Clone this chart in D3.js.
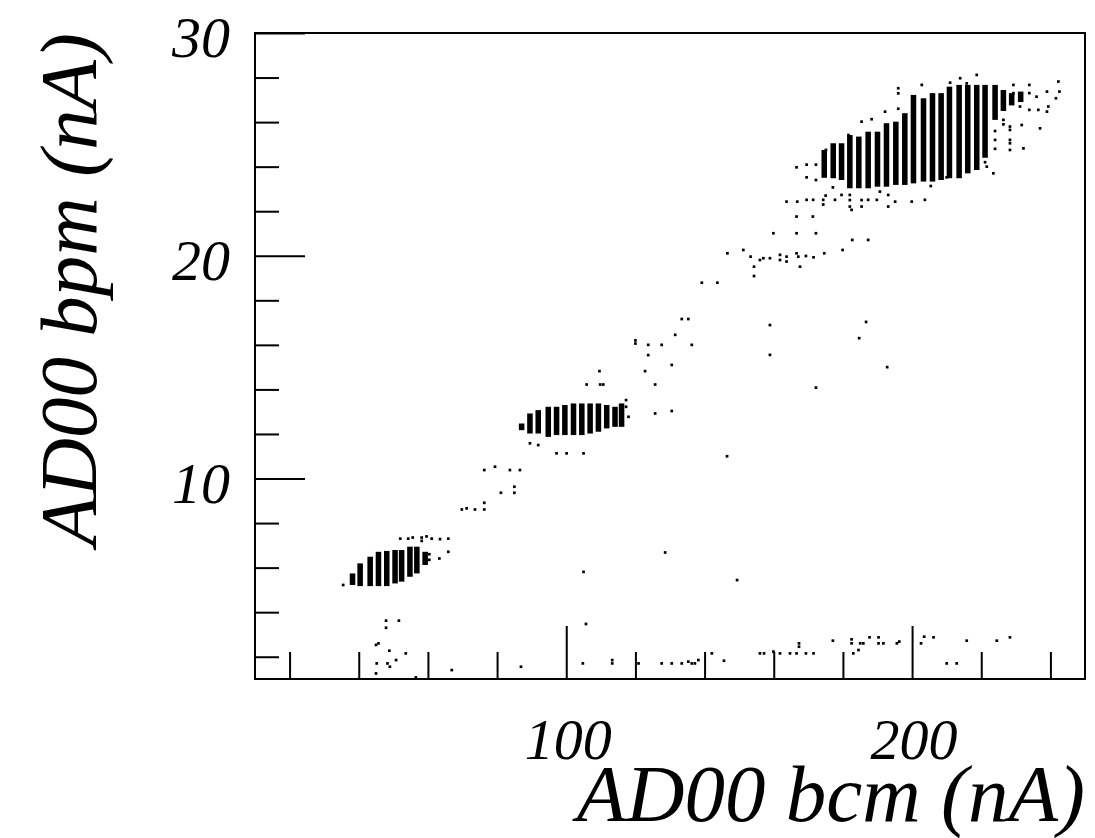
<!DOCTYPE html>
<html><head><meta charset="utf-8">
<script src="https://cdn.jsdelivr.net/npm/d3@7"></script>
<style>
body{margin:0;background:#fff;}
svg{display:block;}
text{font-family:"Liberation Serif","Times New Roman",serif;font-style:italic;fill:#000;}
</style>
</head><body><svg id="c" width="1095" height="838"></svg>
<script>
// ---- tick values & labels ----
const xMinorTicks = [20,40,60,80,120,140,160,180,220,240];
const xMajorTicks = [100,200];
const xTickLabels = ["100","200"];
const yMinorTicks = [2,4,6,8,12,14,16,18,22,24,26,28];
const yMajorTicks = [10,20,30];
const yTickLabels = ["10","20","30"];
const xTitle = "AD00 bcm (nA)";
const yTitle = "AD00 bpm (nA)";

// ---- dense clusters: [bcm, bpm top, bpm bottom] per column ----
const lowCluster = [
  [38.2,5.74,5.22],[40.4,6.19,5.17],[43.3,6.49,5.17],[45.7,6.71,5.17],[48.1,6.75,5.17],
  [50.5,6.79,5.29],[52.4,6.79,5.37],[54.8,6.94,5.59],[56.8,6.94,5.74],[59.2,6.71,6.12]
];
const midCluster = [
  [87.1,12.47,12.17],[89.5,12.92,12.02],[91.9,13.07,12.02],[94.8,13.22,11.87],[97.2,13.22,11.95],
  [99.6,13.30,11.95],[102.1,13.37,11.95],[104.5,13.37,11.95],[106.9,13.37,12.02],[109.3,13.37,12.10],
  [111.7,13.30,12.25],[114.1,13.22,12.32],[116.0,13.37,12.32]
];
const highCluster = [
  [174.6,24.75,23.50],[177.2,25.05,23.48],[179.6,25.05,23.40],[182.0,25.42,23.03],[184.6,25.35,23.03],
  [187.3,25.57,23.03],[190.0,25.57,23.10],[192.6,25.95,23.10],[195.3,26.02,23.18],[197.9,26.40,23.18],
  [200.4,27.22,23.25],[203.3,27.07,23.33],[205.9,27.30,23.33],[208.4,27.30,23.40],[210.8,27.59,23.48],
  [213.6,27.67,23.48],[216.1,27.67,23.70],[218.7,27.67,23.85],[221.1,27.67,24.40],[224.0,27.67,26.10],
  [226.4,27.44,26.50],[228.8,27.30,26.75],[231.4,27.37,26.90]
];

// ---- sparse points: [bcm, bpm] ----
const sparsePoints = [
  [47.9,3.62],[51.6,3.62],[47.9,3.30],[45.0,2.53],[45.7,2.60],[48.85,2.27],[53.6,2.15],[45.2,1.70],
  [48.3,1.70],[49.0,1.55],[50.8,1.85],[45.0,1.25],[56.5,1.07],[66.9,1.40],[86.9,1.55],
  [105.7,3.47],[104.8,1.70],[113.3,1.70],[113.3,1.85],[120.9,1.70],[127.6,1.70],[130.5,1.70],[133.4,1.70],
  [135.3,1.78],[136.3,1.70],[137.2,1.70],[138.2,1.85],[142.1,2.15],[145.6,1.82],[156.0,2.15],[157.2,2.15],
  [159.9,2.23],[161.8,2.15],[164.7,2.15],[166.6,2.15],[167.3,2.60],[167.3,2.45],[169.3,2.15],[171.5,2.15],
  [177.1,2.72],[182.5,2.78],[182.5,2.60],[183.0,2.15],[184.5,2.30],[185.0,2.60],[185.9,2.60],[187.7,2.87],
  [190.3,2.87],[190.3,2.60],[191.7,2.60],[195.6,2.60],[196.3,2.68],[202.6,2.60],[203.5,2.90],[206.2,2.87],
  [210.0,1.70],[212.9,1.70],[215.8,2.72],[224.5,2.72],[228.3,2.87],
  [35.5,5.22],[63.3,6.41],[65.9,6.71],[60.4,6.60],[60.4,6.35],
  [52.0,7.30],[54.3,7.30],[55.6,7.35],[58.2,7.35],[58.2,7.20],[59.6,7.40],[61.1,7.30],[63.5,7.28],[65.9,7.30],
  [69.8,8.61],[71.2,8.66],[73.6,8.61],[76.3,8.91],[76.3,8.61],
  [81.1,9.36],[85.0,9.63],[85.0,9.36],
  [76.3,10.38],[79.4,10.53],[83.7,10.38],[86.6,10.38],
  [89.5,11.58],[91.9,11.50],[97.2,11.13],[100.1,11.13],[105.0,11.13],
  [105.0,5.81],[128.6,6.68],[149.4,5.44],[146.5,11.00],
  [117.3,13.52],[117.3,13.22],[118.0,12.77],[125.7,12.92],[130.5,13.03],
  [105.9,14.22],[109.8,14.22],[110.7,14.22],[125.7,14.22],
  [109.6,14.82],[122.8,14.82],[130.5,15.10],
  [120.0,16.06],[120.0,16.20],[123.7,16.00],[127.6,16.00],[136.3,16.00],[123.7,15.54],[131.5,16.45],
  [133.4,17.16],[135.3,17.16],[139.2,18.79],[143.7,18.79],
  [158.9,16.89],[158.9,15.55],[172.2,14.08],[184.7,16.30],[186.7,17.03],[192.8,15.00],
  [146.6,20.11],[151.2,20.26],[153.3,19.96],[156.0,19.81],[157.0,19.89],[158.9,19.89],[161.8,20.04],
  [161.8,19.81],[163.7,19.96],[163.7,19.74],[166.6,20.11],[167.1,19.96],[169.3,19.99],[171.5,19.93],
  [167.6,19.51],[154.3,19.51],[154.3,19.09],[174.6,20.11],[179.9,20.26],[182.7,20.71],[187.3,20.71],
  [159.9,21.01],[166.6,21.01],[172.2,21.01],[166.6,21.76],[171.3,21.76],
  [163.7,22.43],[166.8,22.43],[169.5,22.51],[171.4,22.51],[174.3,22.51],[174.3,22.30],[175.0,22.70],
  [177.7,22.51],[179.6,22.73],[182.0,22.73],[182.0,22.50],[182.0,22.21],[182.5,22.06],[185.4,22.50],
  [185.4,22.21],[187.3,22.51],[189.8,22.51],[190.7,22.88],[193.1,22.73],[193.1,22.21],[195.1,22.43],
  [199.9,22.43],[203.7,22.51],
  [166.6,23.97],[169.5,24.09],[172.2,24.09],[169.5,23.52],[172.2,23.40],[177.1,23.07],
  [175.1,24.75],[181.6,25.42],[185.4,26.02],[188.3,26.13],[192.2,26.47],[196.0,27.29],[196.0,26.60],
  [205.4,23.13],[210.0,23.52],
  [196.0,27.52],[202.8,27.67],[211.0,27.77],[213.9,27.97],[218.7,28.12],[215.8,27.74],[229.3,27.67],
  [229.3,27.30],[233.9,27.67],[233.9,27.30],[236.0,27.14],[239.0,27.37],[242.3,27.82],[242.6,27.37],
  [241.6,27.07],[239.0,26.47],[239.4,26.70],[236.5,26.55],[237.0,25.72],[232.2,24.82],[228.3,24.75],
  [223.5,23.70],[221.6,24.00],[228.3,25.20],[228.3,25.05],[231.7,25.87],[228.3,25.80],[228.3,25.65],
  [231.2,27.00],[231.2,26.70],[224.0,25.60],[224.0,25.20],[224.0,24.80],[226.4,26.10],[226.4,25.90],
  [233.9,26.55],[221.1,24.20]
];

// ---- drawing ----
const svg = d3.select("#c");
const x = d3.scaleLinear().domain([10,250]).range([255,1085]);
const y = d3.scaleLinear().domain([1,30]).range([679,33]);
const colHalf = 0.8;   // half column width in bcm units
const dot = 2.7;

const clusters = lowCluster.concat(midCluster, highCluster);
svg.append("g").selectAll("rect").data(clusters).join("rect")
  .attr("x", d => x(d[0]-colHalf))
  .attr("width", d => x(d[0]+colHalf) - x(d[0]-colHalf))
  .attr("y", d => y(d[1]))
  .attr("height", d => y(d[2]) - y(d[1]))
  .attr("fill", "#000");

svg.append("g").selectAll("rect").data(sparsePoints).join("rect")
  .attr("x", d => x(d[0]) - dot/2)
  .attr("y", d => y(d[1]) - dot/2)
  .attr("width", dot).attr("height", dot)
  .attr("fill", "#000");

function styleAxis(g){
  g.select(".domain").remove();
  g.selectAll(".tick line").attr("stroke","#000").attr("stroke-width",2);
}
svg.append("g").attr("transform","translate(0,679)")
  .call(d3.axisBottom(x).tickValues(xMinorTicks).tickSize(-27).tickFormat("")).call(styleAxis);
svg.append("g").attr("transform","translate(0,679)")
  .call(d3.axisBottom(x).tickValues(xMajorTicks).tickSize(-53).tickFormat("")).call(styleAxis);
svg.append("g").attr("transform","translate(255,0)")
  .call(d3.axisLeft(y).tickValues(yMinorTicks).tickSize(-24).tickFormat("")).call(styleAxis);
svg.append("g").attr("transform","translate(255,0)")
  .call(d3.axisLeft(y).tickValues(yMajorTicks).tickSize(-50).tickFormat("")).call(styleAxis);

// frame
svg.append("rect").attr("x",x(10)).attr("y",y(30))
  .attr("width",x(250)-x(10)).attr("height",y(1)-y(30))
  .attr("fill","none").attr("stroke","#000").attr("stroke-width",2);

// tick labels
svg.append("g").selectAll("text").data(xMajorTicks).join("text")
  .attr("x", d => x(d) + 2).attr("y", 759)
  .attr("text-anchor","middle").attr("font-size",58)
  .text((d,i) => xTickLabels[i]);
svg.append("g").selectAll("text").data(yMajorTicks).join("text")
  .attr("x", 230).attr("y", d => y(d) + 24)
  .attr("text-anchor","end").attr("font-size",58)
  .text((d,i) => yTickLabels[i]);

// titles
svg.append("text").attr("x",1085).attr("y",821)
  .attr("text-anchor","end").attr("font-size",81).text(xTitle);
svg.append("text").attr("transform","translate(96,33) rotate(-90)")
  .attr("text-anchor","end").attr("font-size",81).text(yTitle);
</script>
</body></html>
